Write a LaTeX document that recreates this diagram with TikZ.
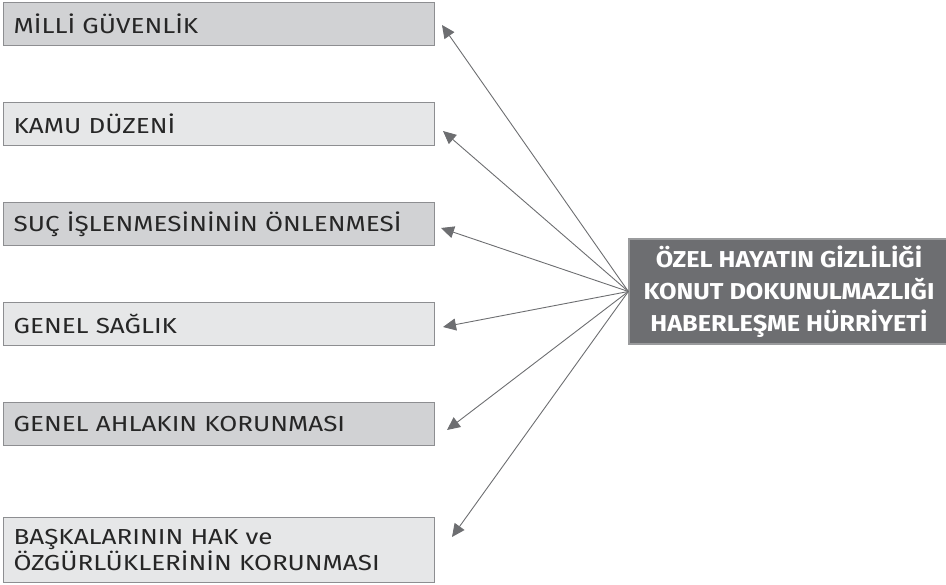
\documentclass[tikz,border=0pt]{standalone}
\usepackage{fontspec}
\setmainfont{Fira Sans}
\newfontfamily\leftfont{Fira Sans}[FakeStretch=1.2]
\newfontfamily\hubfont{Fira Sans}[FakeStretch=1.1]
\usetikzlibrary{arrows.meta}
\definecolor{boxdark}{HTML}{D1D2D4}
\definecolor{boxlight}{HTML}{E6E7E8}
\definecolor{boxline}{HTML}{8D8E91}
\definecolor{hubfill}{HTML}{6D6E71}
\definecolor{hubline}{HTML}{9A9B9D}
\definecolor{arrowcol}{HTML}{6D6E71}
\tikzset{
  lbox/.style={draw=boxline, line width=1.3pt, anchor=north west, minimum width=431pt,
    minimum height=43pt, inner xsep=10pt, inner ysep=0pt, text width=411pt, align=left,
    font=\leftfont\fontsize{21.7}{22.5}\selectfont, text=black!85},
  hub/.style={draw=hubline, fill=hubfill, line width=1.3pt, minimum width=320pt, minimum height=105pt,
    align=center, text=white, font=\hubfont\bfseries\fontsize{23}{32}\selectfont},
  arr/.style={draw=arrowcol, line width=0.9pt, -{Triangle[length=13pt,width=12pt]}},
}
\begin{document}
\begin{tikzpicture}[x=1pt,y=-1pt]
\useasboundingbox (0,0) rectangle (946,585);
\node[lbox, fill=boxdark] (b1) at (3,2) {MİLLİ GÜVENLİK};
\node[lbox, fill=boxlight] (b2) at (3,102) {KAMU DÜZENİ};
\node[lbox, fill=boxdark] (b3) at (3,202) {SUÇ İŞLENMESİNİNİN ÖNLENMESİ};
\node[lbox, fill=boxlight] (b4) at (3,302) {GENEL SAĞLIK};
\node[lbox, fill=boxdark] (b5) at (3,402) {GENEL AHLAKIN KORUNMASI};
\node[lbox, fill=boxlight, minimum height=65pt] (b6) at (3,517) {BAŞKALARININ HAK ve\\ÖZGÜRLÜKLERİNİN KORUNMASI};
\node[hub] (c) at (789,291.5) {ÖZEL HAYATIN GİZLİLİĞİ\\KONUT DOKUNULMAZLIĞI\\HABERLEŞME HÜRRİYETİ};
\coordinate (t1) at (442,25);
\coordinate (t2) at (443,131);
\coordinate (t3) at (441,228);
\coordinate (t4) at (443,327);
\coordinate (t5) at (447,430);
\coordinate (t6) at (452,537);
\foreach \i in {1,...,6} \draw[arr] (c.west) -- (t\i);
\end{tikzpicture}
\end{document}
